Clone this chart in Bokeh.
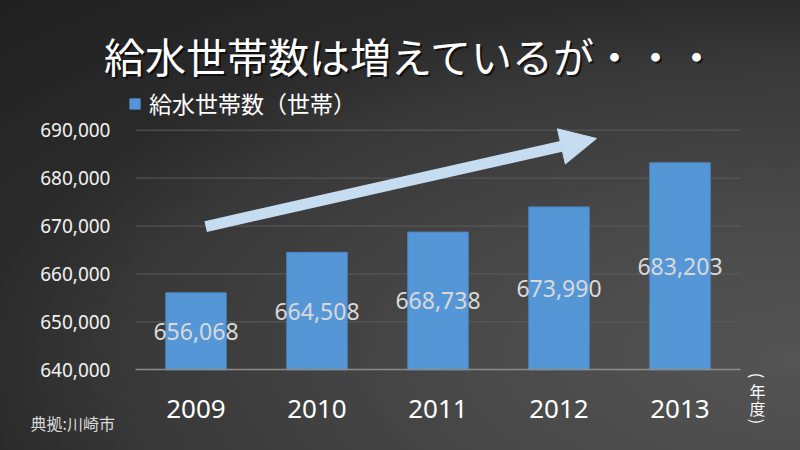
from bokeh.plotting import figure
from bokeh.models import (Range1d, FixedTicker, NumeralTickFormatter, Label, LinearAxis,
                          Arrow, NormalHead, Legend, LegendItem, ColumnDataSource,
                          InlineStyleSheet)
from bokeh.core.properties import value
from bokeh.embed import file_html
from bokeh.resources import INLINE

# ---- data ----
years = ["2009", "2010", "2011", "2012", "2013"]
households = [656068, 664508, 668738, 673990, 683203]
y_ticks = [640000, 650000, 660000, 670000, 680000, 690000]
title_text = "給水世帯数は増えているが・・・"
legend_text = "給水世帯数（世帯）"
source_text = "典拠:川崎市"
unit_chars = ["(", "年", "度", ")"]
y_min, y_max = 640000, 690000

CJK = "Noto Sans CJK JP"
NUM = "Noto Sans"

W, H = 800, 450
# plot area in canvas pixels
PL, PR, PT, PB = 135, 740, 129.7, 369.3
n = len(years)
slot = (PR - PL) / n
ppu = (PB - PT) / (y_max - y_min)
x_range = Range1d(-PL / slot, (W - PL) / slot)
y_range = Range1d(y_min - (H - PB) / ppu, y_max + PT / ppu)

p = figure(width=W, height=H, x_range=x_range, y_range=y_range,
           x_axis_type=None, y_axis_type=None,
           output_backend="svg", toolbar_location=None, min_border=0)

p.stylesheets = [InlineStyleSheet(css=":host { background: radial-gradient(ellipse 900px 400px at 800px 360px, #545454 0%, #4a4a4a 35%, #383838 75%, #2a2a2a 92%, #212121 125%); }")]
p.background_fill_alpha = 0
p.border_fill_alpha = 0
p.outline_line_color = None
p.xgrid.visible = False
p.ygrid.visible = False

x_pos = [i + 0.5 for i in range(n)]
src = ColumnDataSource(dict(
    x=x_pos,
    year=years,
    value=households,
    mid=[(y_min + v) / 2 for v in households],
    label=[f"{v:,}" for v in households],
))

# horizontal gridlines at tick values across the plot area
p.segment(x0=0, x1=n, y0=y_ticks[1:], y1=y_ticks[1:], line_color="#5c5c5c", line_width=1)

bars = p.vbar(x="x", top="value", bottom=y_min, width=0.5, source=src,
              fill_color="#5596d7", line_color="#4a86c4", line_width=1)

p.text(x="x", y="mid", text="label", source=src, text_align="center",
       text_baseline="middle", text_font=value(NUM), text_font_size="23px",
       text_color="#d9d9d9")

# axes
yaxis = LinearAxis(fixed_location=0, bounds=(y_min, y_max),
                   ticker=FixedTicker(ticks=y_ticks),
                   formatter=NumeralTickFormatter(format="0,0"))
yaxis.axis_line_color = None
yaxis.major_tick_line_color = None
yaxis.minor_tick_line_color = None
yaxis.major_tick_out = 0
yaxis.major_tick_in = 0
yaxis.major_label_standoff = 25
yaxis.major_label_text_font = NUM
yaxis.major_label_text_font_size = "19px"
yaxis.major_label_text_color = "#f2f2f2"
p.add_layout(yaxis, "left")

xaxis = LinearAxis(fixed_location=y_min, bounds=(0, n),
                   ticker=FixedTicker(ticks=x_pos),
                   major_label_overrides={x: y for x, y in zip(x_pos, years)})
xaxis.axis_line_color = "#8c8c8c"
xaxis.axis_line_width = 1.5
xaxis.major_tick_line_color = None
xaxis.minor_tick_line_color = None
xaxis.major_tick_out = 0
xaxis.major_tick_in = 0
xaxis.major_label_standoff = 30
xaxis.major_label_text_font = NUM
xaxis.major_label_text_font_size = "26px"
xaxis.major_label_text_color = "#ffffff"
p.add_layout(xaxis, "below")

# trend arrow
arrow_col = "#c6dcf1"
p.add_layout(Arrow(x_start=0.58, y_start=669900, x_end=3.81, y_end=688270,
                   line_color=arrow_col, line_width=11,
                   end=NormalHead(size=36, fill_color=arrow_col, line_color=arrow_col)))

# legend
legend = Legend(items=[LegendItem(label=legend_text, renderers=[bars])],
                location=(128, H - 120), padding=0, margin=0, spacing=0,
                border_line_color=None, background_fill_alpha=0,
                glyph_width=13, glyph_height=13, label_standoff=8,
                label_height=23, label_text_font=CJK,
                label_text_font_size="23px", label_text_color="#ffffff")
p.add_layout(legend)

# title with shadow
TX, TY = 411, H - 54
for dx, dy, col, alpha in [(2, -2, "#000000", 0.6), (0, 0, "#ffffff", 1.0)]:
    p.add_layout(Label(x=TX + dx, y=TY + dy, x_units="screen", y_units="screen",
                       text=title_text, text_align="center", text_baseline="middle",
                       text_font=CJK, text_font_size="41px",
                       text_color=col, text_alpha=alpha))

# source note
p.add_layout(Label(x=30, y=H - 422, x_units="screen", y_units="screen", text=source_text,
                   text_align="left", text_baseline="middle", text_font=CJK,
                   text_font_size="16px", text_color="#d8d8d8"))

# vertical unit label (vertical writing: brackets turned)
unit_y = [375, 390, 407, 421]
for ch, yy in zip(unit_chars, unit_y):
    turned = ch in "()"
    p.add_layout(Label(x=757, y=H - yy, x_units="screen", y_units="screen", text=ch,
                       angle=-90 if turned else 0, angle_units="deg",
                       text_align="center", text_baseline="middle", text_font=CJK,
                       text_font_size="16px", text_color="#ffffff"))

open("out.html", "w").write(file_html(p, INLINE))
